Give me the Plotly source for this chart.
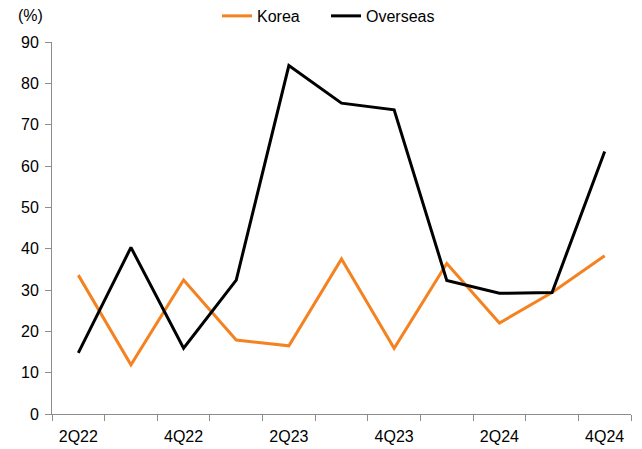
import plotly.graph_objects as go

quarters = ["2Q22", "3Q22", "4Q22", "1Q23", "2Q23", "3Q23", "4Q23", "1Q24", "2Q24", "3Q24", "4Q24"]
korea = [33.6, 11.9, 32.4, 17.9, 16.5, 37.5, 15.9, 36.4, 22.0, 29.4, 38.3]
overseas = [14.8, 40.3, 15.9, 32.4, 84.3, 75.2, 73.6, 32.3, 29.2, 29.4, 63.5]
tick_text = ["2Q22", "", "4Q22", "", "2Q23", "", "4Q23", "", "2Q24", "", "4Q24"]
y_ticks = [0, 10, 20, 30, 40, 50, 60, 70, 80, 90]

FONT = "Liberation Sans, Arial, sans-serif"
AXIS_COLOR = "#8C8C8C"

fig = go.Figure()
fig.add_trace(go.Scatter(x=quarters, y=korea, name="Korea", mode="lines",
                         line=dict(color="#F58220", width=3)))
fig.add_trace(go.Scatter(x=quarters, y=overseas, name="Overseas", mode="lines",
                         line=dict(color="#000000", width=3)))

fig.update_layout(
    width=634, height=441,
    margin=dict(l=44, r=11, t=34, b=35, autoexpand=False),
    paper_bgcolor="white", plot_bgcolor="white",
    font=dict(family=FONT, size=16, color="#000000"),
    showlegend=True,
    legend=dict(orientation="h", x=0.285, xanchor="left", y=1.07, yanchor="middle",
                font=dict(size=16), bgcolor="rgba(0,0,0,0)", traceorder="normal",
                itemwidth=30, entrywidth=64, entrywidthmode="pixels"),
    annotations=[dict(text="(%)", xref="paper", yref="paper", x=-0.062, y=1.07,
                      xanchor="left", yanchor="middle", showarrow=False,
                      font=dict(size=16))],
)
fig.update_xaxes(
    type="category", tickmode="array", tickvals=quarters, ticktext=tick_text,
    tickson="boundaries", ticks="outside", ticklen=6, tickcolor=AXIS_COLOR,
    showline=True, linecolor=AXIS_COLOR, linewidth=1, showgrid=False, zeroline=False,
    range=[-0.5, 10.5], tickangle=0, automargin=False, ticklabelstandoff=8,
)
fig.update_yaxes(
    range=[0, 90], tickvals=y_ticks, ticks="outside", ticklen=6, tickcolor=AXIS_COLOR,
    showline=True, linecolor=AXIS_COLOR, linewidth=1, showgrid=False, zeroline=False,
    ticklabelstandoff=3, automargin=False,
)

fig.write_html("out.html")
